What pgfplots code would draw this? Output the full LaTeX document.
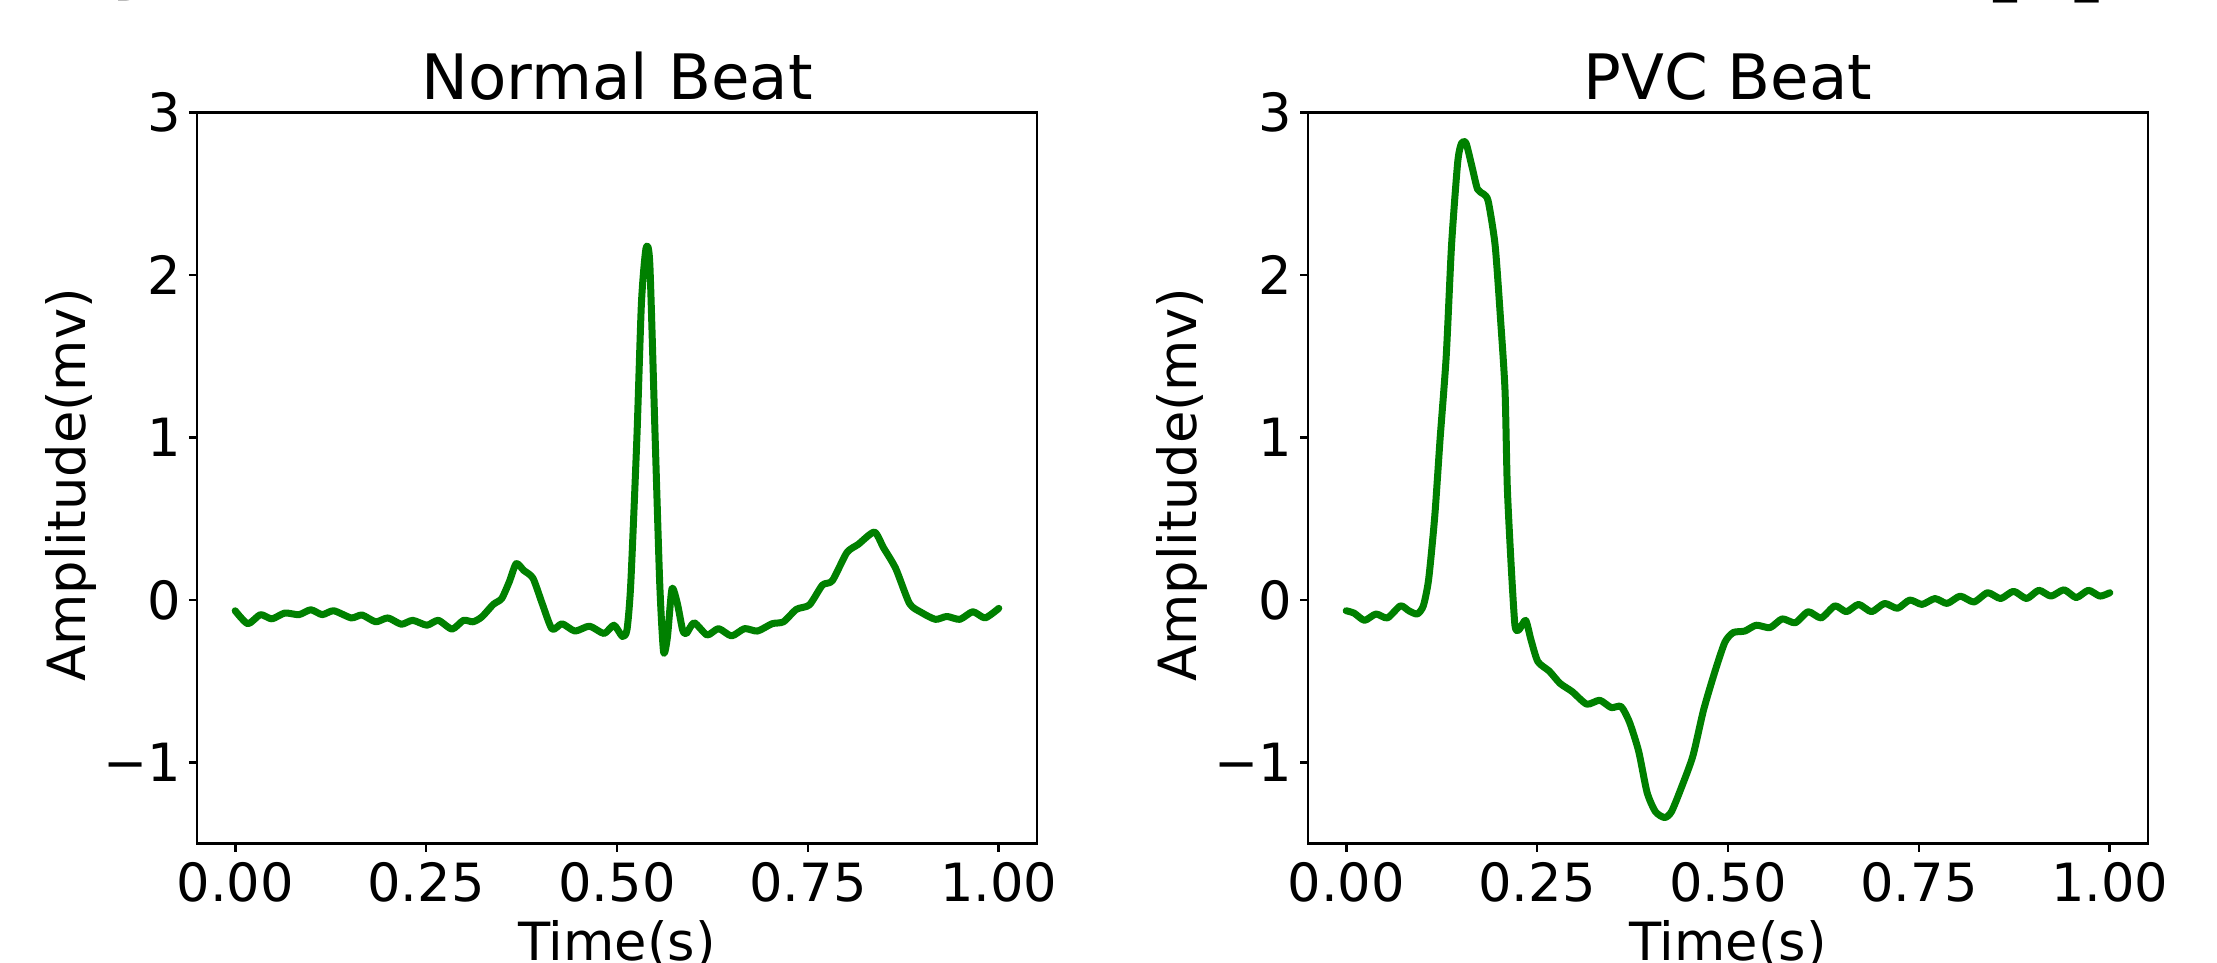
\documentclass[border=0pt]{standalone}
\usepackage{pgfplots}
\pgfplotsset{compat=1.18}
\usepackage{fontspec}
\setmainfont{DejaVu Sans}
\definecolor{mplgreen}{rgb}{0,0.5,0}
\pgfplotsset{
  every axis title/.style={at={(axis description cs:0.5,1)}, anchor=base, yshift=4.1pt, inner sep=0pt, font=\fontsize{18.8}{18.8}\selectfont},
  ecg/.style={
    scale only axis, width=252pt, height=219.3pt,
    xmin=-0.05, xmax=1.05, ymin=-1.5, ymax=3,
    xtick={0,0.25,0.5,0.75,1}, xticklabels={0.00,0.25,0.50,0.75,1.00},
    ytick={-1,0,1,2,3}, yticklabels={−1,0,1,2,3},
    /pgf/number format/assume math mode=true,
    tick align=outside, major tick length=2.4pt,
    xtick pos=left, ytick pos=left,
    tick style={line width=0.8pt, black},
    axis line style={line width=0.8pt, black},
    tick label style={font=\fontsize{15.8}{15.8}\selectfont, inner sep=0pt},
    xticklabel style={anchor=north, yshift=-3.1pt},
    yticklabel style={anchor=east, xshift=-2.1pt},
    label style={font=\fontsize{15.8}{15.8}\selectfont, inner sep=0pt},
    xlabel style={at={(axis description cs:0.5,0)}, anchor=base, yshift=-34.9pt},
    ylabel style={at={(axis description cs:-0.1327,0.491)}, anchor=base},
    xlabel={Time(s)}, ylabel={Amplitude(mv)},
  },
  ecgline/.style={mplgreen, line width=2.1pt, smooth, tension=0.4, line join=round, line cap=round},
}
\begin{document}
\begin{tikzpicture}
\begin{axis}[ecg, at={(59.1pt,35.79pt)}, anchor=south west, title={Normal Beat}]
\addplot[ecgline] coordinates {
(0.000,-0.066) (0.0166,-0.146) (0.033,-0.090) (0.048,-0.116) (0.065,-0.080)
(0.0835,-0.090) (0.099,-0.060) (0.114,-0.090) (0.129,-0.066) (0.152,-0.110)
(0.166,-0.092) (0.184,-0.134) (0.200,-0.110) (0.2175,-0.149) (0.2325,-0.125)
(0.251,-0.155) (0.266,-0.125) (0.284,-0.179) (0.299,-0.125) (0.3115,-0.134)
(0.323,-0.104) (0.338,-0.027) (0.349,0.009) (0.359,0.113) (0.368,0.224)
(0.378,0.182) (0.390,0.134) (0.402,-0.021) (0.415,-0.179) (0.428,-0.146)
(0.445,-0.191) (0.464,-0.161) (0.483,-0.206) (0.496,-0.155) (0.507,-0.224)
(0.513,-0.185) (0.518,0.098) (0.526,0.993) (0.532,1.828) (0.538,2.165)
(0.543,2.067) (0.550,0.993) (0.556,0.098) (0.561,-0.319) (0.566,-0.230)
(0.572,0.069) (0.579,-0.021) (0.586,-0.185) (0.591,-0.206) (0.601,-0.140)
(0.618,-0.215) (0.633,-0.176) (0.650,-0.221) (0.667,-0.176) (0.684,-0.191)
(0.703,-0.146) (0.718,-0.134) (0.735,-0.057) (0.752,-0.030) (0.769,0.092)
(0.782,0.119) (0.801,0.292) (0.816,0.343) (0.837,0.418) (0.849,0.322)
(0.865,0.194) (0.883,-0.021) (0.898,-0.075) (0.917,-0.119) (0.932,-0.101)
(0.949,-0.119) (0.966,-0.072) (0.982,-0.110) (1.000,-0.051)
};
\end{axis}
\begin{axis}[ecg, at={(392.4pt,35.79pt)}, anchor=south west, title={PVC Beat}]
\addplot[ecgline] coordinates {
(0.000,-0.066) (0.0105,-0.081) (0.024,-0.125) (0.039,-0.086) (0.054,-0.110)
(0.071,-0.036) (0.082,-0.066) (0.093,-0.086) (0.101,-0.036) (0.108,0.128)
(0.116,0.516) (0.123,0.993) (0.131,1.500) (0.138,2.186) (0.146,2.693)
(0.151,2.812) (0.157,2.812) (0.165,2.663) (0.172,2.529) (0.180,2.499)
(0.186,2.455) (0.195,2.186) (0.202,1.739) (0.208,1.291) (0.211,0.695)
(0.216,0.218) (0.221,-0.155) (0.226,-0.185) (0.235,-0.125) (0.242,-0.245)
(0.251,-0.379) (0.266,-0.438) (0.280,-0.513) (0.296,-0.564) (0.315,-0.641)
(0.332,-0.617) (0.347,-0.662) (0.360,-0.656) (0.371,-0.752) (0.383,-0.931)
(0.394,-1.184) (0.405,-1.303) (0.417,-1.339) (0.426,-1.303) (0.439,-1.154)
(0.454,-0.960) (0.468,-0.677) (0.483,-0.438) (0.496,-0.259) (0.507,-0.200)
(0.522,-0.191) (0.537,-0.155) (0.555,-0.170) (0.571,-0.116) (0.588,-0.140)
(0.605,-0.072) (0.622,-0.110) (0.640,-0.036) (0.655,-0.072) (0.671,-0.027)
(0.688,-0.072) (0.705,-0.021) (0.722,-0.051) (0.738,0.000) (0.754,-0.027)
(0.771,0.009) (0.787,-0.021) (0.804,0.024) (0.822,-0.012) (0.840,0.045)
(0.857,0.009) (0.874,0.054) (0.891,0.009) (0.907,0.060) (0.923,0.024)
(0.940,0.063) (0.956,0.015) (0.972,0.060) (0.987,0.024) (1.000,0.045)
};
\end{axis}
% fragments of a caption line above the figure, cut by the page edge
\node[anchor=base, inner sep=0pt, font=\fontsize{24}{24}\bfseries\selectfont] at (41.1pt,293.8pt) {y};
\node[anchor=base, inner sep=0pt, font=\fontsize{24}{24}\bfseries\selectfont] at (466.5pt,294.3pt) {g};
\node[anchor=base, inner sep=0pt, font=\fontsize{24}{24}\bfseries\selectfont] at (614pt,291.1pt) {[?]};
\pgfresetboundingbox
\useasboundingbox (0,0) rectangle (665.1pt,288.9pt);
\end{tikzpicture}
\end{document}
